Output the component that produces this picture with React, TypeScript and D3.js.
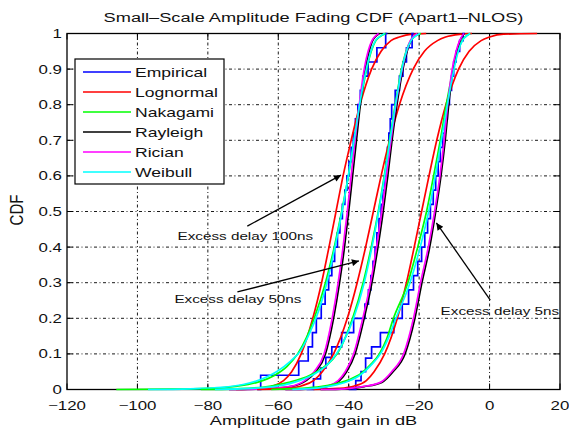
import React from 'react';
import * as d3 from 'd3';

const W = 569;
const H = 432;
const FONT = "'Liberation Sans', Arial, Helvetica, sans-serif";
const SX = 1.35;

const title = 'Small–Scale Amplitude Fading CDF (Apart1–NLOS)';
const xLabel = 'Amplitude path gain in dB';
const yLabel = 'CDF';
const xTicks = [-120, -100, -80, -60, -40, -20, 0, 20];
const yTicks = [0, 0.1, 0.2, 0.3, 0.4, 0.5, 0.6, 0.7, 0.8, 0.9, 1];
const legendNames = ['Empirical', 'Lognormal', 'Nakagami', 'Rayleigh', 'Rician', 'Weibull'];
const colors = ['#0000ff', '#ff0000', '#00ff00', '#000000', '#ff00ff', '#00ffff'];

// ---- Excess delay 100 ns ----
const emp100 = [[-66,0],[-65,0.04],[-54.2,0.08],[-51.5,0.12],[-50.3,0.16],[-49.2,0.2],[-47.8,0.24],[-46.7,0.28],[-45.7,0.32],[-44.8,0.36],[-44,0.4],[-43.2,0.44],[-42.5,0.48],[-41.8,0.52],[-41.1,0.56],[-40.5,0.6],[-39.9,0.64],[-39.3,0.68],[-38.7,0.72],[-38.1,0.76],[-37.4,0.8],[-36.7,0.84],[-36,0.88],[-34.5,0.92],[-32,0.96],[-29.5,1],[-29,1]];
const logn100 = [[-72,0],[-66,0.003],[-61.5,0.01],[-58.5,0.025],[-56.2,0.05],[-53.5,0.1],[-50.2,0.2],[-47.7,0.3],[-45.6,0.4],[-43.6,0.5],[-41.6,0.6],[-39.3,0.7],[-36.8,0.8],[-33.5,0.9],[-30.8,0.95],[-28,0.98],[-25.6,0.99],[-22,0.998],[-18,1]];
const naka100 = [[-106,0],[-90,0.0008],[-80,0.003],[-72,0.009],[-66,0.02],[-61,0.04],[-57.5,0.065],[-54.5,0.1],[-51.8,0.15],[-49.8,0.2],[-46.6,0.3],[-44.1,0.4],[-42,0.5],[-40.1,0.6],[-38.4,0.7],[-36.8,0.8],[-34.9,0.9],[-33.6,0.95],[-32.3,0.98],[-31.3,0.99],[-29.5,1]];
const rayl100 = [[-74,0],[-63.5,0.002],[-56.6,0.008],[-52.1,0.025],[-49.4,0.05],[-46.6,0.1],[-44.3,0.2],[-42.6,0.3],[-41.2,0.4],[-40,0.5],[-38.9,0.6],[-37.8,0.7],[-36.7,0.8],[-35.3,0.9],[-34.2,0.95],[-33.2,0.98],[-32.5,0.99],[-31.3,1]];
const rice100 = [[-74,0],[-64,0.002],[-57,0.008],[-52.5,0.025],[-49.8,0.05],[-47,0.1],[-44.7,0.2],[-43,0.3],[-41.6,0.4],[-40.4,0.5],[-39.3,0.6],[-38.2,0.7],[-37,0.8],[-35.6,0.9],[-34.5,0.95],[-33.4,0.98],[-32.7,0.99],[-31.5,1]];
const weib100 = [[-97,0],[-85,0.002],[-76,0.006],[-70,0.014],[-65,0.028],[-60.5,0.05],[-56.5,0.08],[-53.6,0.11],[-51.5,0.15],[-49.3,0.2],[-46.2,0.3],[-43.9,0.4],[-41.9,0.5],[-40.1,0.6],[-38.5,0.7],[-36.9,0.8],[-35,0.9],[-33.7,0.95],[-32.4,0.98],[-31.4,0.99],[-29.8,1]];

// ---- Excess delay 50 ns ----
const emp50 = [[-52,0],[-50,0.03],[-48,0.06],[-46.5,0.09],[-44.8,0.12],[-42,0.16],[-38.6,0.2],[-35.4,0.24],[-34.4,0.28],[-33.7,0.32],[-33.1,0.36],[-32.5,0.4],[-32,0.44],[-31.4,0.48],[-30.8,0.52],[-30.3,0.56],[-29.8,0.6],[-29.4,0.64],[-29,0.68],[-28.6,0.72],[-28.2,0.76],[-27.8,0.8],[-26.8,0.84],[-25.6,0.88],[-24.6,0.92],[-23.6,0.96],[-22,1],[-21.5,1]];
const logn50 = [[-66,0],[-58,0.003],[-53.5,0.01],[-50,0.025],[-47.5,0.05],[-44.3,0.1],[-40.4,0.2],[-37.6,0.3],[-35.2,0.4],[-33,0.5],[-30.8,0.6],[-28.4,0.7],[-25.6,0.8],[-21.7,0.9],[-18.5,0.95],[-14.8,0.98],[-12.5,0.99],[-8,0.998],[-5,1]];
const naka50 = [[-82,0],[-72,0.002],[-64,0.007],[-57,0.02],[-51,0.04],[-47.5,0.06],[-44.5,0.085],[-42.7,0.11],[-40.8,0.15],[-38.9,0.2],[-35.9,0.3],[-33.6,0.4],[-31.6,0.5],[-29.9,0.6],[-28.4,0.7],[-26.8,0.8],[-25,0.9],[-23.7,0.95],[-22.4,0.98],[-21.5,0.99],[-19.5,1]];
const rayl50 = [[-58,0],[-50.6,0.002],[-45.6,0.01],[-42.6,0.025],[-40.6,0.05],[-38.2,0.1],[-35.6,0.2],[-33.4,0.3],[-31.7,0.4],[-30.2,0.5],[-28.9,0.6],[-27.7,0.7],[-26.3,0.8],[-24.6,0.9],[-23.4,0.95],[-22.3,0.98],[-21.6,0.99],[-20.3,1]];
const rice50 = [[-58,0],[-51,0.002],[-46,0.01],[-43,0.025],[-41,0.05],[-38.6,0.1],[-36,0.2],[-33.8,0.3],[-32.1,0.4],[-30.6,0.5],[-29.3,0.6],[-28,0.7],[-26.6,0.8],[-24.8,0.9],[-23.6,0.95],[-22.5,0.98],[-21.8,0.99],[-20.5,1]];
const weib50 = [[-78,0],[-68,0.003],[-60,0.01],[-54,0.025],[-49.5,0.045],[-46,0.07],[-43.5,0.1],[-41.7,0.13],[-38.6,0.2],[-35.6,0.3],[-33.4,0.4],[-31.5,0.5],[-29.8,0.6],[-28.3,0.7],[-26.7,0.8],[-24.9,0.9],[-23.6,0.95],[-22.3,0.98],[-21.4,0.99],[-19.8,1]];

// ---- Excess delay 5 ns ----
const emp5 = [[-40,0],[-38,0.025],[-36.5,0.05],[-35.2,0.088],[-33.5,0.12],[-31,0.16],[-27.2,0.2],[-24.8,0.24],[-23,0.28],[-21.6,0.32],[-20.4,0.36],[-19.3,0.4],[-18.4,0.44],[-17.6,0.48],[-16.8,0.52],[-16,0.56],[-15.3,0.6],[-14.6,0.64],[-14,0.68],[-13.3,0.72],[-12.6,0.76],[-12,0.8],[-11.4,0.84],[-10.8,0.88],[-10.2,0.92],[-9.5,0.95],[-8.5,0.98],[-7.5,1],[-7,1]];
const logn5 = [[-50,0],[-43,0.003],[-38.4,0.01],[-35,0.025],[-32.8,0.05],[-29.8,0.1],[-26.2,0.2],[-23.6,0.3],[-21.4,0.4],[-19.3,0.5],[-17.2,0.6],[-15,0.7],[-12.4,0.8],[-8.8,0.9],[-5.8,0.95],[-2.4,0.98],[0,0.99],[4,0.998],[13.5,1]];
const naka5 = [[-62,0],[-54,0.003],[-48,0.008],[-44,0.015],[-40,0.027],[-36.5,0.045],[-33.8,0.07],[-31.3,0.1],[-29.3,0.14],[-27.3,0.2],[-23.2,0.3],[-20.4,0.4],[-17.9,0.5],[-15.9,0.6],[-14,0.7],[-12.3,0.8],[-10.3,0.9],[-9,0.95],[-7.8,0.98],[-7,0.99],[-5.5,1]];
const rayl5 = [[-48,0],[-40.6,0.002],[-35.6,0.008],[-30.6,0.02],[-27.4,0.05],[-24,0.1],[-21.2,0.2],[-19.2,0.3],[-17,0.4],[-15.3,0.5],[-13.8,0.6],[-12.6,0.7],[-11.6,0.8],[-10.4,0.9],[-9.3,0.95],[-8.4,0.98],[-7.9,0.99],[-7.1,1]];
const rice5 = [[-48,0],[-41,0.002],[-36,0.008],[-31,0.02],[-27.8,0.05],[-24.4,0.1],[-21.6,0.2],[-19.6,0.3],[-17.4,0.4],[-15.6,0.5],[-14.1,0.6],[-12.9,0.7],[-11.9,0.8],[-10.6,0.9],[-9.5,0.95],[-8.5,0.98],[-8,0.99],[-7.2,1]];
const weib5 = [[-56,0],[-50,0.003],[-45,0.01],[-40.5,0.022],[-36.5,0.042],[-33.5,0.07],[-31,0.1],[-28.5,0.15],[-26.6,0.2],[-22.6,0.3],[-19.7,0.4],[-17.3,0.5],[-15.4,0.6],[-13.7,0.7],[-12,0.8],[-10.1,0.9],[-8.9,0.95],[-7.7,0.98],[-6.9,0.99],[-5.5,1]];

const groups = [
  [emp100, logn100, naka100, rayl100, rice100, weib100],
  [emp50, logn50, naka50, rayl50, rice50, weib50],
  [emp5, logn5, naka5, rayl5, rice5, weib5],
];

// annotations: label, text anchor (dB, CDF), arrow tail (dB, CDF), arrow head (dB, CDF)
const annLabels = ['Excess delay 100ns', 'Excess delay 50ns', 'Excess delay 5ns'];
const annText = [[-88.6, 0.42], [-89.5, 0.243], [-13.9, 0.209]];
const annTail = [[-68.8, 0.459], [-71.6, 0.274], [0.2, 0.251]];
const annHead = [[-42.2, 0.602], [-37.1, 0.361], [-15.1, 0.468]];

const fmt = (v: number) => (v < 0 ? '\u2212' + Math.abs(v) : String(v));

function SText({ x, y, size, anchor = 'start', children }: any) {
  return (
    <text
      transform={`translate(${x},${y}) scale(${SX},1)`}
      fontSize={size}
      textAnchor={anchor}
      fontFamily={FONT}
      fill="#111"
    >
      {children}
    </text>
  );
}

export default function App() {
  const L = 67, R = 560, T = 33.5, B = 389.5;
  const x = d3.scaleLinear().domain([-120, 20]).range([L, R]);
  const y = d3.scaleLinear().domain([0, 1]).range([B, T]);
  const smooth = d3.line<number[]>().x(d => x(d[0])).y(d => y(d[1])).curve(d3.curveMonotoneX);
  const step = d3.line<number[]>().x(d => x(d[0])).y(d => y(d[1])).curve(d3.curveStepAfter);
  const tick = 6;
  const dash = '3,2.5,1,2.5';

  return (
    <div style={{ position: 'absolute', left: 0, top: 0 }}>
      <svg width={W} height={H} style={{ display: 'block', background: '#fff' }}>
        <defs>
          <marker id="ah" viewBox="0 0 10 10" refX="10" refY="5" markerWidth="9" markerHeight="7"
            markerUnits="userSpaceOnUse" orient="auto">
            <path d="M0,0 L10,5 L0,10 z" fill="#000" />
          </marker>
        </defs>
        {xTicks.slice(1, -1).map(t => (
          <line key={'gx' + t} x1={x(t)} x2={x(t)} y1={T} y2={B} stroke="#000" strokeWidth={0.9} strokeDasharray={dash} />
        ))}
        {yTicks.slice(1, -1).map(t => (
          <line key={'gy' + t} x1={L} x2={R} y1={y(t)} y2={y(t)} stroke="#000" strokeWidth={0.9} strokeDasharray={dash} />
        ))}
        <rect x={L} y={T} width={R - L} height={B - T} fill="none" stroke="#000" strokeWidth={1.3} />
        {xTicks.map(t => (
          <g key={'tx' + t}>
            <line x1={x(t)} x2={x(t)} y1={B} y2={B - tick} stroke="#000" />
            <line x1={x(t)} x2={x(t)} y1={T} y2={T + tick} stroke="#000" />
            <SText x={x(t)} y={410} size={12.5} anchor="middle">{fmt(t)}</SText>
          </g>
        ))}
        {yTicks.map(t => (
          <g key={'ty' + t}>
            <line x1={L} x2={L + tick} y1={y(t)} y2={y(t)} stroke="#000" />
            <line x1={R} x2={R - tick} y1={y(t)} y2={y(t)} stroke="#000" />
            <SText x={62} y={y(t) + 4.5} size={12.5} anchor="end">{String(t)}</SText>
          </g>
        ))}
        {groups.map((g, gi) => (
          <g key={'grp' + gi}>
            {g.map((d, si) => (
              <path key={si} d={(si === 0 ? step(d) : smooth(d)) || ''} fill="none"
                stroke={colors[si]} strokeWidth={1.7} />
            ))}
          </g>
        ))}
        <SText x={(L + R) / 2} y={22} size={13.5} anchor="middle">{title}</SText>
        <SText x={(L + R) / 2} y={425} size={13.5} anchor="middle">{xLabel}</SText>
        <text transform="translate(23,210) scale(1.2,1) rotate(-90)" fontSize={15} textAnchor="middle"
          fontFamily={FONT} fill="#111">{yLabel}</text>
        <rect x={75} y={59} width={149} height={125} fill="#fff" stroke="#000" strokeWidth={1.2} />
        {legendNames.map((n, i) => (
          <g key={n}>
            <line x1={83} x2={131} y1={72 + i * 20} y2={72 + i * 20} stroke={colors[i]} strokeWidth={1.3} />
            <SText x={135} y={72 + i * 20 + 5} size={13}>{n}</SText>
          </g>
        ))}
        {annLabels.map((lab, i) => (
          <g key={lab}>
            <line x1={x(annTail[i][0])} y1={y(annTail[i][1])} x2={x(annHead[i][0])} y2={y(annHead[i][1])}
              stroke="#000" strokeWidth={1.3} markerEnd="url(#ah)" />
            <SText x={x(annText[i][0])} y={y(annText[i][1])} size={11.3}>{lab}</SText>
          </g>
        ))}
      </svg>
    </div>
  );
}
